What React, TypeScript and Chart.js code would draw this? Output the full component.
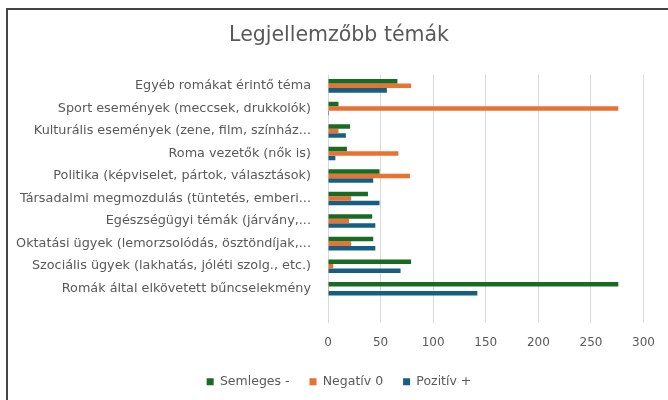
import React, { useEffect, useRef } from "react";
import { Chart, registerables } from "chart.js";

Chart.register(...registerables);

const categories = [
  "Egyéb romákat érintő téma",
  "Sport események (meccsek, drukkolók)",
  "Kulturális események (zene, film, színház...",
  "Roma vezetők (nők is)",
  "Politika (képviselet, pártok, választások)",
  "Társadalmi megmozdulás (tüntetés, emberi...",
  "Egészségügyi témák (járvány,...",
  "Oktatási ügyek (lemorzsolódás, ösztöndíjak,...",
  "Szociális ügyek (lakhatás, jóléti szolg., etc.)",
  "Romák által elkövetett bűncselekmény",
  "",
];

const semleges = [66, 10, 21, 18, 49, 38, 42, 43, 79, 276, null];
const negativ = [79, 276, 10, 67, 78, 22, 20, 22, 5, 1, null];
const pozitiv = [56, 1, 17, 7, 43, 49, 45, 45, 69, 142, null];

const seriesNames = ["Semleges -", "Negatív 0", "Pozitív +"];
const seriesColors = ["#196B24", "#E97132", "#156082"];

const FONT = "'DejaVu Sans', sans-serif";

export default function App() {
  const ref = useRef<HTMLCanvasElement>(null);

  useEffect(() => {
    if (!ref.current) return;
    const values = [semleges, negativ, pozitiv];
    const chart = new Chart(ref.current, {
      type: "bar",
      data: {
        labels: categories,
        datasets: values.map((d, i) => ({
          label: seriesNames[i],
          data: d,
          backgroundColor: seriesColors[i],
          borderWidth: 0,
          categoryPercentage: 0.6,
          barPercentage: 1.0,
        })),
      },
      options: {
        indexAxis: "y",
        animation: false,
        responsive: false,
        maintainAspectRatio: false,
        layout: { padding: { left: 2, right: 0, top: 0, bottom: 2 } },
        plugins: {
          title: {
            display: true,
            text: "Legjellemzőbb témák",
            color: "#595959",
            font: { family: FONT, size: 20.5, weight: "normal" },
            padding: { top: 13, bottom: 27 },
          },
          legend: {
            position: "bottom",
            labels: {
              color: "#595959",
              font: { family: FONT, size: 12.5 },
              boxWidth: 7,
              boxHeight: 7,
              padding: 20,
            },
          },
          tooltip: { enabled: false },
        },
        scales: {
          x: {
            min: 0,
            max: 300,
            ticks: {
              stepSize: 50,
              color: "#595959",
              font: { family: FONT, size: 12 },
              padding: 13,
            },
            grid: { color: "#d9d9d9", drawTicks: false },
            border: { display: false },
            afterFit: (scale: any) => {
              scale.height = 33;
            },
          },
          y: {
            ticks: {
              color: "#595959",
              font: { family: FONT, size: 12.8 },
              padding: 17,
              autoSkip: false,
            },
            grid: { display: false, drawTicks: false },
            border: { display: false },
            afterFit: (scale: any) => {
              scale.width = 318;
            },
          },
          yRight: {
            position: "right",
            display: true,
            ticks: { display: false },
            grid: { display: false, drawTicks: false },
            border: { display: false },
            afterFit: (scale: any) => {
              scale.width = 24;
            },
          },
        },
      },
    });
    return () => chart.destroy();
  }, []);

  return (
    <div
      style={{
        position: "fixed",
        left: 6,
        top: 8,
        width: 662,
        height: 392,
        borderTop: "2px solid #444",
        borderLeft: "2px solid #444",
        background: "#fff",
        boxSizing: "border-box",
      }}
    >
      <canvas ref={ref} width={660} height={390} style={{ display: "block" }} />
    </div>
  );
}
